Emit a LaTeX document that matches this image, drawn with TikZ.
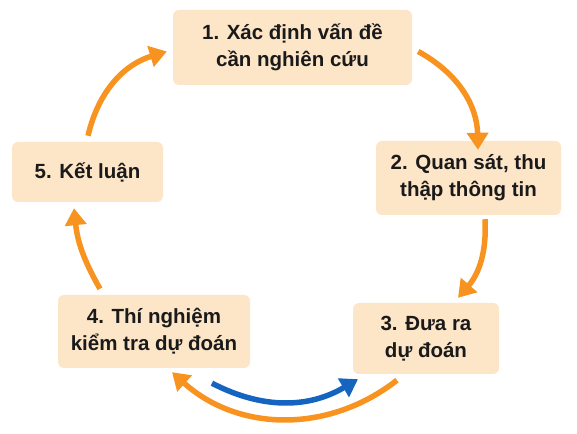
\documentclass[tikz,border=0pt]{standalone}
\usepackage{fontspec}
\setmainfont{Liberation Sans}
\usetikzlibrary{arrows.meta}
\definecolor{boxfill}{HTML}{FDE5C8}
\definecolor{arrorange}{HTML}{F7931E}
\definecolor{arrblue}{HTML}{1565C0}
\definecolor{txt}{HTML}{1A1A1A}
\begin{document}
\begin{tikzpicture}[x=1pt,y=1pt,
  stepbox/.style={fill=boxfill, rounded corners=6pt, align=center, text=txt,
    font=\fontsize{20.5}{27}\selectfont\bfseries, inner sep=0pt},
  flow/.style={draw=arrorange, line width=5.5pt,
    -{Triangle[length=17pt,width=21pt]}},
  backflow/.style={draw=arrblue, line width=5.5pt,
    -{Triangle[length=17pt,width=21pt]}}]
\useasboundingbox (0,0) rectangle (577,433);
\node[stepbox, minimum width=239pt, minimum height=75pt] (b1) at (292.5,385.5) {1. Xác định vấn đề\\cần nghiên cứu};
\node[stepbox, minimum width=185pt, minimum height=74pt] (b2) at (468.5,255) {2. Quan sát, thu\\thập thông tin};
\node[stepbox, minimum width=146pt, minimum height=71pt] (b3) at (426,94.5) {3. Đưa ra\\dự đoán};
\node[stepbox, minimum width=192pt, minimum height=73pt] (b4) at (154,101.5) {4. Thí nghiệm\\kiểm tra dự đoán};
\node[stepbox, minimum width=151pt, minimum height=60pt] (b5) at (87.5,261) {5. Kết luận};
% connectors
\draw[flow] ([shift={(6,-4)}]b1.east) to[bend left=30] ([shift={(9.5,-9)}]b2.north);
\draw[flow] ([shift={(16.5,-4)}]b2.south) to[bend left=22] ([shift={(32,5)}]b3.north);
\draw[flow] ([shift={(-29,-6)}]b3.south) to[bend left=40] ([shift={(18,-4)}]b4.south);
\draw[backflow] ([shift={(58,-15)}]b4.south) to[bend right=29] ([shift={(-68,-5)}]b3.south);
\draw[flow] ([shift={(-54,6)}]b4.north) to[bend left=12] ([shift={(-13.5,-6)}]b5.south);
\draw[flow] ([shift={(0.5,6)}]b5.north) to[bend left=30] ([shift={(-6,-4)}]b1.west);
\end{tikzpicture}
\end{document}
